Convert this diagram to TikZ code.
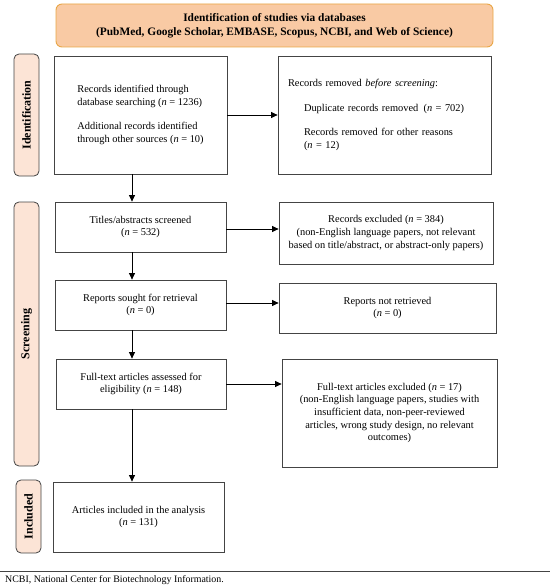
\documentclass[tikz,border=0pt]{standalone}
\usepackage{fontspec}
\setmainfont{Liberation Serif}
\usetikzlibrary{arrows.meta}
\definecolor{hdrfill}{HTML}{F9CAA4}
\definecolor{hdrdraw}{HTML}{E8A646}
\definecolor{labfill}{HTML}{FCE4D6}
\definecolor{boxdraw}{HTML}{444444}
\tikzset{
  box/.style={draw=boxdraw, line width=0.8pt, fill=white, inner sep=0pt,
    font=\fontsize{10.4}{12.6}\selectfont},
  hdrbox/.style={draw=hdrdraw, fill=hdrfill, line width=0.9pt, rounded corners=6pt,
    align=center, inner sep=0pt, font=\fontsize{11.4}{14}\selectfont\bfseries},
  sidelab/.style={draw=boxdraw, fill=labfill, line width=0.8pt, rounded corners=5pt,
    inner sep=0pt, font=\fontsize{12}{14}\selectfont\bfseries},
  flow/.style={draw=black, line width=0.8pt, -{Triangle[length=6.5pt,width=6pt]}}
}
\begin{document}
\begin{tikzpicture}[x=1pt,y=-1pt]
\useasboundingbox (0,0) rectangle (550,588);
% header
\node[hdrbox, minimum width=437pt, minimum height=43pt] (hdr) at (274.5,25.5)
  {Identification of studies via databases\\(PubMed, Google Scholar, EMBASE, Scopus, NCBI, and Web of Science)};
% side labels
\node[sidelab, minimum width=122pt, minimum height=25pt, rotate=90] (lab1) at (26.5,115) {Identification};
\node[sidelab, minimum width=264pt, minimum height=25pt, rotate=90] (lab2) at (26.5,334) {Screening};
\node[sidelab, minimum width=73pt, minimum height=25pt, rotate=90] (lab3) at (28.5,516.5) {Included};
% left column
\node[box, align=left, minimum width=173pt, minimum height=118pt] (b1) at (140.5,115)
  {Records identified through\\database searching (\textit{n} = 1236)\\[12pt]Additional records identified\\through other sources (\textit{n} = 10)};
\node[box, align=center, minimum width=171pt, minimum height=50pt] (b2) at (140.5,227)
  {Titles/abstracts screened\\(\textit{n} = 532)};
\node[box, align=center, minimum width=171pt, minimum height=50pt] (b3) at (140.5,305)
  {Reports sought for retrieval\\(\textit{n} = 0)};
\node[box, align=center, minimum width=170pt, minimum height=50pt] (b4) at (141,384)
  {Full-text articles assessed for\\eligibility (\textit{n} = 148)};
\node[box, align=center, minimum width=171pt, minimum height=70pt] (b5) at (138.5,517)
  {Articles included in the analysis\\(\textit{n} = 131)};
% right column
\node[box, align=left, text width=193pt, minimum width=213pt, minimum height=118pt] (r1) at (384.5,115)
  {Records removed \textit{before screening}:\\[12pt]
   \hspace*{16pt}Duplicate records removed\enspace(\textit{n} = 702)\\[12pt]
   \hspace*{16pt}Records removed for other reasons\\
   \hspace*{16pt}(\textit{n} = 12)};
\node[box, align=center, minimum width=214pt, minimum height=62pt] (r2) at (386,233)
  {Records excluded (\textit{n} = 384)\\(non-English language papers, not relevant\\based on title/abstract, or abstract-only papers)};
\node[box, align=center, minimum width=217pt, minimum height=50pt] (r3) at (387.5,308)
  {Reports not retrieved\\(\textit{n} = 0)};
\node[box, align=center, minimum width=215pt, minimum height=108pt] (r4) at (389.5,413)
  {Full-text articles excluded (\textit{n} = 17)\\(non-English language papers, studies with\\insufficient data, non-peer-reviewed\\articles, wrong study design, no relevant\\outcomes)};
% connectors
\coordinate (ax) at (132,0);
\draw[flow] (b1.south -| ax) -- (b2.north -| ax);
\draw[flow] (b2.south -| ax) -- (b3.north -| ax);
\draw[flow] (b3.south -| ax) -- (b4.north -| ax);
\draw[flow] (b4.south -| ax) -- (b5.north -| ax);
\draw[flow] (b1.east) -- (b1.east -| r1.west);
\draw[flow] ([yshift=-2pt]b2.east) -- ([yshift=-2pt]b2.east -| r2.west);
\draw[flow] ([yshift=2pt]b3.east) -- ([yshift=2pt]b3.east -| r3.west);
\draw[flow] (b4.east) -- (b4.east -| r4.west);
% footer
\coordinate (fl) at (0,571);
\coordinate (fr) at (550,571);
\draw[line width=0.8pt, draw=boxdraw] (fl) -- (fr);
\node[anchor=west, inner sep=0pt, font=\fontsize{9.9}{11}\selectfont] (foot) at (5,580)
  {NCBI, National Center for Biotechnology Information.};
\end{tikzpicture}
\end{document}
